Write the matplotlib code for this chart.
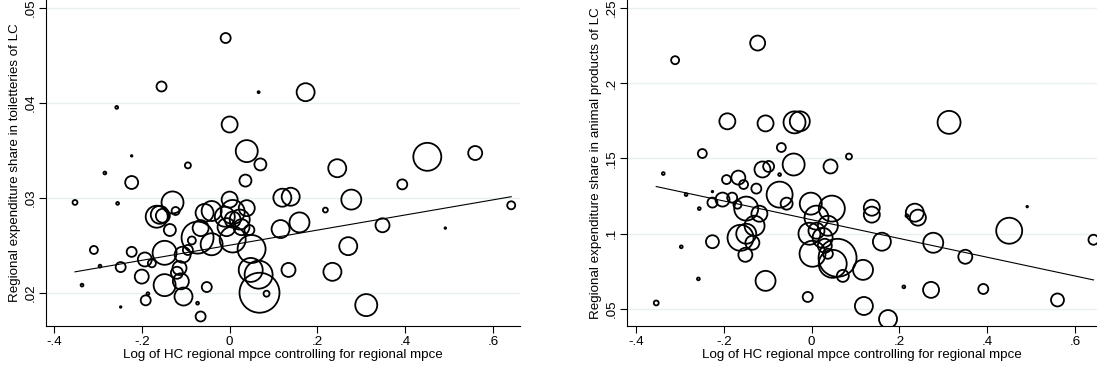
import numpy as np
import matplotlib
matplotlib.use("Agg")
import matplotlib.pyplot as plt

plt.rcParams['font.family'] = ['Liberation Sans', 'DejaVu Sans']

# left panel: toiletries share vs log HC mpce (bubble weight ~ population)
x1 = [-0.009, -0.155, -0.257, 0.066, 0.0, 0.039, 0.070, -0.095, -0.223, -0.284,
      -0.223, 0.036, 0.173, 0.45, 0.559, 0.245, 0.393, 0.120, 0.139, 0.277,
      0.218, 0.641, 0.116, 0.159, 0.348, 0.491, 0.270, 0.134, 0.234, 0.311,
      0.084, 0.068, 0.066, 0.048, 0.050, 0.007, -0.041, -0.352, -0.255, -0.309,
      -0.295, -0.336, -0.248, -0.248, -0.223, -0.200, -0.193, -0.191, -0.177, -0.166,
      -0.159, -0.152, -0.130, -0.136, -0.123, -0.148, -0.148, -0.120, -0.114, -0.111,
      -0.105, -0.107, -0.095, -0.086, -0.073, -0.066, -0.052, -0.073, -0.066, -0.041,
      -0.057, -0.011, 0.007, 0.039, 0.023, 0.027, -0.007, 0.007, 0.045, -0.186, 0.0]
y1 = [.0468, .0417, .0395, .0411, .0377, .0349, .0335, .0334, .0344, .0326,
      .0316, .0318, .0411, .0343, .0347, .0331, .0314, .0300, .0301, .0298,
      .0287, .0292, .0267, .0274, .0271, .0268, .0249, .0224, .0222, .0187,
      .0199, .0200, .0219, .0224, .0246, .0256, .0251, .0295, .0294, .0245,
      .0228, .0208, .0185, .0227, .0243, .0217, .0235, .0192, .0231, .0280,
      .0282, .0281, .0295, .0266, .0286, .0242, .0208, .0221, .0226, .0212,
      .0196, .0240, .0245, .0255, .0258, .0268, .0206, .0189, .0175, .0286,
      .0284, .0280, .0285, .0289, .0277, .0269, .0269, .0277, .0266, .0199, .0298]
w1 = [25, 25, 2, 1, 64, 121, 36, 9, 0.6, 2,
      42, 36, 81, 196, 49, 81, 25, 81, 81, 100,
      6, 16, 81, 100, 49, 0.6, 81, 49, 81, 121,
      9, 400, 196, 144, 196, 169, 121, 6, 2, 16,
      2, 2, 0.6, 25, 25, 49, 49, 25, 16, 121,
      81, 49, 121, 36, 16, 144, 121, 36, 49, 64,
      81, 64, 25, 16, 256, 64, 25, 2, 25, 100,
      81, 100, 144, 64, 100, 64, 81, 64, 25, 2, 64]
fit1 = (0.0250, 0.00796)  # intercept, slope

# right panel: animal products share
x2 = [-0.311, -0.123, -0.192, -0.105, -0.039, -0.027, -0.249, -0.069, -0.041, -0.112,
      -0.098, -0.338, -0.073, -0.194, -0.167, -0.155, -0.126, -0.073, 0.313, 0.043,
      0.085, -0.286, -0.226, -0.226, -0.203, -0.181, -0.169, -0.256, -0.149, -0.119,
      -0.130, -0.149, -0.162, -0.135, -0.151, -0.226, -0.297, -0.258, -0.105, -0.354,
      -0.009, -0.057, -0.002, 0.011, 0.046, 0.037, -0.005, 0.011, 0.025, 0.030,
      0.037, 0.002, 0.059, 0.048, 0.071, 0.117, 0.119, 0.174, 0.137, 0.137,
      0.160, 0.235, 0.242, 0.217, 0.491, 0.450, 0.277, 0.350, 0.642, 0.210,
      0.272, 0.391, 0.560]
y2 = [.2153, .2267, .1747, .1733, .1740, .1747, .1533, .1573, .1460, .1427,
      .1447, .1400, .1393, .1360, .1373, .1327, .1300, .1260, .1740, .1447,
      .1513, .1260, .1280, .1207, .1227, .1240, .1193, .1167, .1167, .1133,
      .1053, .1000, .0973, .0940, .0860, .0947, .0913, .0700, .0687, .0540,
      .0580, .1200, .1200, .1107, .1167, .1053, .1000, .1020, .0973, .0920,
      .0867, .0867, .0840, .0800, .0720, .0760, .0520, .0433, .1173, .1127,
      .0947, .1140, .1107, .1120, .1180, .1020, .0940, .0847, .0960, .0647,
      .0627, .0633, .0560]
w2 = [16, 56, 64, 64, 121, 100, 20, 20, 121, 64,
      30, 2, 2, 20, 49, 20, 25, 169, 132, 49,
      9, 2, 0.6, 25, 49, 25, 16, 2, 144, 64,
      100, 100, 169, 49, 49, 42, 2, 2, 100, 6,
      25, 36, 121, 144, 169, 100, 121, 64, 100, 49,
      25, 169, 361, 196, 36, 100, 81, 81, 64, 64,
      81, 81, 64, 2, 0.6, 169, 100, 49, 25, 2,
      64, 25, 42]
fit2 = (0.1093, -0.0623)

xlabel = 'Log of HC regional mpce controlling for regional mpce'
xticks = [-0.4, -0.2, 0, 0.2, 0.4, 0.6]
xticklabels = ['-.4', '-.2', '0', '.2', '.4', '.6']

fig = plt.figure(figsize=(10.97, 3.73), dpi=100)
ax1 = fig.add_axes([46 / 1097, 47 / 373, 474 / 1097, 326 / 373])
ax2 = fig.add_axes([627 / 1097, 47 / 373, 470 / 1097, 326 / 373])


def panel(ax, x, y, w, fit, yticks, yticklabels, ylabel, xlim, ylim):
    ax.grid(axis='y', color='#e8f0f2', linewidth=1.0, zorder=0)
    ax.set_axisbelow(True)
    s = np.array(w) * 2.07
    ax.scatter(x, y, s=s, facecolors='none', edgecolors='black', linewidths=1.3, zorder=3)
    xs = np.array([min(x), max(x)])
    ax.plot(xs, fit[0] + fit[1] * xs, color='black', linewidth=0.8, zorder=4)
    ax.set_xlim(*xlim)
    ax.set_ylim(*ylim)
    ax.set_xticks(xticks)
    ax.set_xticklabels(xticklabels)
    ax.set_yticks(yticks)
    ax.set_yticklabels(yticklabels, rotation=90, va='center')
    ax.tick_params(direction='out', length=5, width=0.8, labelsize=9.6, colors='black', pad=2)
    ax.set_xlabel(xlabel, fontsize=9.6, labelpad=1)
    ax.set_ylabel(ylabel, fontsize=9.6, labelpad=2)
    for side in ['top', 'right']:
        ax.spines[side].set_visible(False)
    for side in ['left', 'bottom']:
        ax.spines[side].set_linewidth(0.8)


panel(ax1, x1, y1, w1, fit1, [.02, .03, .04, .05], ['.02', '.03', '.04', '.05'],
      'Regional expenditure share in toiletteries of LC', (-0.418, 0.661), (0.0165, 0.0508))
panel(ax2, x2, y2, w2, fit2, [.05, .1, .15, .2, .25], ['.05', '.1', '.15', '.2', '.25'],
      'Regional expenditure share in animal products of LC', (-0.4206, 0.650), (0.0387, 0.2553))

fig.savefig('out.png', dpi=100)
